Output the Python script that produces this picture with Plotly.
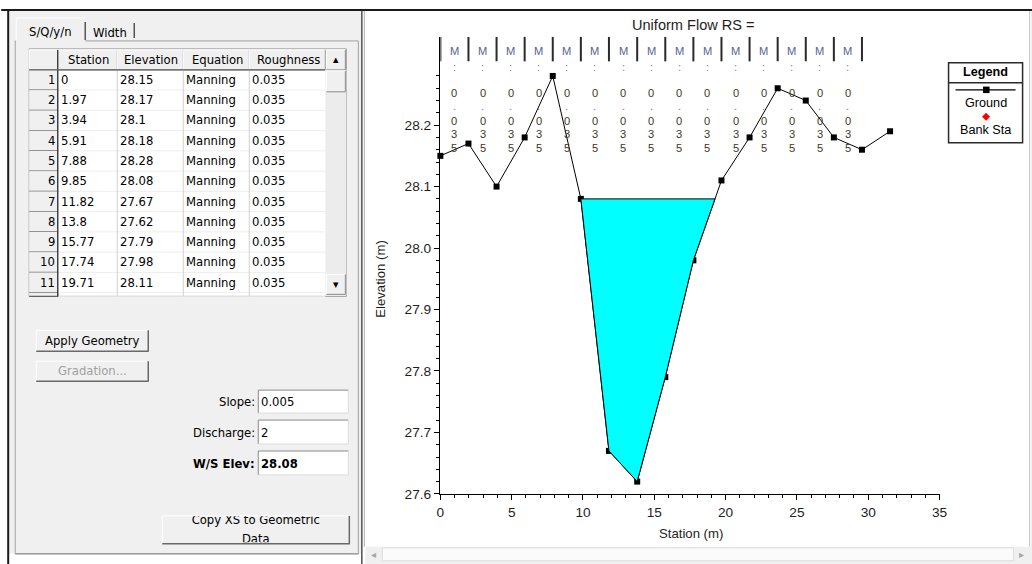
import plotly.graph_objects as go

W, H = 1032, 564

# ---------------- data ----------------
station = [0, 1.97, 3.94, 5.91, 7.88, 9.85, 11.82, 13.8, 15.77, 17.74, 19.71,
           21.68, 23.65, 25.62, 27.59, 29.56, 31.53]
elevation = [28.15, 28.17, 28.1, 28.18, 28.28, 28.08, 27.67, 27.62, 27.79, 27.98, 28.11,
             28.18, 28.26, 28.24, 28.18, 28.16, 28.19]
equation = ["Manning", "Manning", "Manning", "Manning", "Manning", "Manning",
            "Manning", "Manning", "Manning", "Manning", "Manning"]
roughness = ["0.035", "0.035", "0.035", "0.035", "0.035", "0.035", "0.035", "0.035",
             "0.035", "0.035", "0.035", "0.035", "0.035", "0.035", "0.035"]
n_label = "M:0.035"
slope = "0.005"
discharge = "2"
ws_elev = 28.08
table_columns = ["Station", "Elevation", "Equation", "Roughness"]
copy_button_lines = ["Copy XS to Geometric", "Data"]
x_ticks = [0, 5, 10, 15, 20, 25, 30, 35]
y_ticks = [27.6, 27.7, 27.8, 27.9, 28.0, 28.1, 28.2]
y_minor = [27.62, 27.64, 27.66, 27.68, 27.72, 27.74, 27.76, 27.78, 27.82, 27.84, 27.86,
           27.88, 27.92, 27.94, 27.96, 27.98, 28.02, 28.04, 28.06, 28.08, 28.12, 28.14,
           28.16, 28.18, 28.22, 28.24, 28.26, 28.28]

UI = "DejaVu Sans"
CH = "Liberation Sans, Arial"

# page-to-picture compensation (the photographed page comes out slightly scaled)
SC = 0.988
OX = 2.8


def X(p):
    return ((p - OX) / SC) / W


def Y(p):
    return 1 - (p / SC) / H


def F(s):
    return round(s / SC, 2)


shapes = []
anns = []


def rect(x0, y0, x1, y1, fill=None, line=None, lw=1):
    shapes.append(dict(type="rect", xref="paper", yref="paper", x0=X(x0), x1=X(x1),
                       y0=Y(y1), y1=Y(y0), fillcolor=fill or "rgba(0,0,0,0)",
                       line=dict(color=line or "rgba(0,0,0,0)", width=lw if line else 0),
                       layer="below"))


def seg(x0, y0, x1, y1, color, lw=1, layer="below"):
    shapes.append(dict(type="line", xref="paper", yref="paper", x0=X(x0), x1=X(x1),
                       y0=Y(y0), y1=Y(y1), line=dict(color=color, width=lw), layer=layer))


def txt(x, y, s, size=11, color="#000", anchor="left", bold=False, font=UI):
    if bold:
        s = "<b>" + s + "</b>"
    anns.append(dict(xref="paper", yref="paper", x=X(x), y=Y(y), text=s, showarrow=False,
                     xanchor=anchor, yanchor="middle",
                     font=dict(family=font, size=F(size), color=color), borderpad=0))


def button(x0, y0, x1, y1):
    rect(x0, y0, x1, y1, fill="#f0f0f0")
    seg(x0, y0, x1, y0, "#ffffff")
    seg(x0, y0, x0, y1, "#ffffff")
    seg(x0, y1, x1, y1, "#696969", 1.5)
    seg(x1, y0, x1, y1 + 0.5, "#696969", 1.5)


def raised(x0, y0, x1, y1, fill="#f0f0f0"):
    rect(x0, y0, x1, y1, fill=fill)
    seg(x0, y0, x1, y0, "#ffffff")
    seg(x0, y0, x0, y1, "#ffffff")
    seg(x0, y1, x1, y1, "#8a8a8a")
    seg(x1, y0, x1, y1, "#8a8a8a")


# ---------------- window frame ----------------
rect(8, 11, 360, 555, fill="#f0f0f0")
rect(364, 11, 1028, 548, fill="#ffffff")
rect(1029, 11, 1036, 570, fill="#f0f0f0")
seg(0, 10, 1036, 10, "#1a1a1a", 2)
seg(7, 10, 7, 570, "#1a1a1a", 2)
seg(360.5, 11, 360.5, 570, "#505050", 1.5)
seg(363, 11, 363, 548, "#b0b0b0", 1)
seg(1028, 11, 1028, 548, "#c8c8c8", 1)

# bottom scrollbar
rect(364, 548, 1036, 570, fill="#f0f0f0")
rect(381, 549, 1012, 562, fill="#fbfbfb", line="#dcdcdc")
txt(373, 555.5, "◂", 10, "#a8a8a8", "center")
txt(1020, 555.5, "▸", 10, "#a8a8a8", "center")

# ---------------- tab control ----------------
rect(14, 41, 357, 555, line="#a0a0a0")
seg(14, 555, 357, 555, "#a0a0a0", 1.5)
rect(15, 18, 84, 42, fill="#f0f0f0")
seg(15, 18, 84, 18, "#ffffff")
seg(15, 18, 15, 41, "#ffffff")
seg(84, 22, 84, 40, "#555555", 1.5)
seg(133, 23, 133, 38, "#555555", 1.5)
txt(49, 32, "S/Q/y/n", 11.5, "#000", "center")
txt(108.5, 33, "Width", 11.5, "#000", "center")

# ---------------- table ----------------
cols = [28, 57, 116, 182, 248, 324]
sb0, sb1 = 324, 345
hdr0, hdr1 = 50, 70
row_h = 20.3
n_rows = len(equation)
tbl_bot = 297

rect(28, 49, sb1, tbl_bot, fill="#ffffff", line="#9a9a9a")
for i in range(len(cols) - 1):
    raised(cols[i], hdr0, cols[i + 1], hdr1)
for j, name in enumerate(table_columns):
    txt((cols[j + 1] + cols[j + 2]) / 2 + 1, 60, name, 11.5, "#000", "center")
for r in range(n_rows + 1):
    top = hdr1 + r * row_h
    bot = min(top + row_h, tbl_bot)
    rect(28, top, 57, bot, fill="#f0f0f0")
    seg(28, bot, 57, bot, "#5a5a5a", 1.2)
    seg(57, bot, sb0, bot, "#eeeeee", 1)
for c in cols[2:5]:
    seg(c, hdr1, c, tbl_bot, "#d0d0d0", 1)
seg(56.5, hdr0, 56.5, tbl_bot, "#404040", 1.5)
seg(28, hdr1, sb0, hdr1, "#606060", 1.2)
for r in range(n_rows):
    yc = hdr1 + r * row_h + row_h / 2
    txt(55, yc, str(r + 1), 11.5, "#000", "right")
    txt(cols[1] + 2, yc, f"{station[r]:g}", 11.5, "#000", "left")
    txt(cols[2] + 2, yc, f"{elevation[r]:g}", 11.5, "#000", "left")
    txt(cols[3] + 2, yc, equation[r], 11.5, "#000", "left")
    txt(cols[4] + 2, yc, roughness[r], 11.5, "#000", "left")
rect(sb0, hdr1, sb1, tbl_bot - 1, fill="#ececec")
raised(sb0 + 1, hdr0, sb1 - 1, hdr1)
raised(sb0 + 1, hdr1 + 1, sb1 - 1, hdr1 + 22)
raised(sb0 + 1, 275, sb1 - 1, 295)
txt((sb0 + sb1) / 2, 60, "▲", 7, "#000", "center")
txt((sb0 + sb1) / 2, 285.5, "▼", 7, "#000", "center")

# ---------------- buttons and inputs ----------------
button(35, 331, 147, 352)
txt(91, 341.5, "Apply Geometry", 11.5, "#000", "center")
button(35, 362, 147, 382)
txt(91, 372, "Gradation...", 11.5, "#a0a0a0", "center")


def entry(y0, y1):
    rect(257, y0, 347, y1, fill="#ffffff")
    seg(257, y0, 347, y0, "#8a8a8a")
    seg(257, y0, 257, y1, "#8a8a8a")
    seg(257, y1, 347, y1, "#dcdcdc")
    seg(347, y0, 347, y1, "#dcdcdc")


entry(391, 414)
entry(421, 445)
entry(452, 476)
txt(255, 403, "Slope:", 11.5, "#000", "right")
txt(259, 403, slope, 11.5, "#000", "left")
txt(255, 434, "Discharge:", 11.5, "#000", "right")
txt(259, 434, discharge, 11.5, "#000", "left")
txt(255, 465, "W/S Elev:", 11.5, "#000", "right", bold=True)
txt(259, 465, f"{ws_elev:.2f}", 11.5, "#000", "left", bold=True)
button(161, 517, 348, 545)

# ---------------- chart ----------------
fig = go.Figure()

fig.add_trace(go.Scatter(x=station, y=elevation, mode="lines+markers",
                         line=dict(color="#000", width=1),
                         marker=dict(symbol="square", size=6, color="#000"),
                         cliponaxis=False, showlegend=False, hoverinfo="skip"))

# water surface polygon
wx, wy = [], []
for i in range(len(station) - 1):
    x0, y0, x1, y1 = station[i], elevation[i], station[i + 1], elevation[i + 1]
    if y0 <= ws_elev and (not wx):
        wx.append(x0); wy.append(ws_elev)
    if (y0 - ws_elev) * (y1 - ws_elev) < 0 and y0 > ws_elev and not wx:
        xi = x0 + (ws_elev - y0) / (y1 - y0) * (x1 - x0)
        wx.append(xi); wy.append(ws_elev)
    if wx and y1 < ws_elev:
        wx.append(x1); wy.append(y1)
    if wx and y0 < ws_elev <= y1:
        xi = x0 + (ws_elev - y0) / (y1 - y0) * (x1 - x0)
        wx.append(xi); wy.append(ws_elev)
        break
wx.append(wx[0]); wy.append(wy[0])
fig.add_trace(go.Scatter(x=wx, y=wy, mode="lines", fill="toself", fillcolor="#00ffff",
                         line=dict(color="#000", width=1), showlegend=False,
                         hoverinfo="skip"))

# clipped two-line caption of the "Copy XS" button (hidden helper axes)
fig.add_trace(go.Scatter(x=[0.5, 0.5], y=[0.80, 0.10], mode="text",
                         text=copy_button_lines, textposition="middle center",
                         textfont=dict(family=UI, size=F(11.5), color="#000"),
                         xaxis="x2", yaxis="y2", cliponaxis=True, showlegend=False,
                         hoverinfo="skip"))

# n-value label bars and text
n_bars = len(roughness) + 1
for i in range(n_bars):
    shapes.append(dict(type="line", xref="x", yref="paper", x0=station[i], x1=station[i],
                       y0=Y(61.5), y1=Y(37), line=dict(color="#2a2a2a", width=2),
                       layer="above"))
rows_y = [51, 67, 93, 106.5, 121.5, 134, 148]
row_col = ["#55649a", "#8c6cb0", "#3e3626", "#8c6cb0", "#3e3626", "#3e3626", "#3e3626"]
for i in range(len(roughness)):
    xm = (station[i] + station[i + 1]) / 2
    lab = n_label[:2] + roughness[i]
    for k, ch in enumerate(lab):
        anns.append(dict(xref="x", yref="paper", x=xm, y=Y(rows_y[k]), text=ch,
                         showarrow=False, xanchor="center", yanchor="middle",
                         font=dict(family=CH, size=F(11), color=row_col[k])))

# titles
txt(692.5, 25, "Uniform Flow RS =", 14.4, "#1e1e1e", "center", font=CH)
txt(690, 535, "Station (m)", 13, "#1e1e1e", "center", font=CH)
anns.append(dict(xref="paper", yref="paper", x=X(379), y=Y(279), text="Elevation (m)",
                 textangle=-90, showarrow=False, xanchor="center", yanchor="middle",
                 font=dict(family=CH, size=F(13), color="#1e1e1e")))

# legend
shapes.append(dict(type="rect", xref="paper", yref="paper", x0=X(947), x1=X(1021),
                   y0=Y(143), y1=Y(63), fillcolor="#ffffff",
                   line=dict(color="#2a2a2a", width=1.5), layer="above"))
seg(947, 83, 1021, 83, "#2a2a2a", 1.5, "above")
seg(954, 90, 1014, 90, "#000", 1.2, "above")
shapes.append(dict(type="rect", xref="paper", yref="paper", x0=X(981.5), x1=X(988),
                   y0=Y(93.3), y1=Y(86.8), fillcolor="#000", line=dict(width=0),
                   layer="above"))
shapes.append(dict(type="path", xref="paper", yref="paper",
                   path=f"M {X(984.5)} {Y(113)} L {X(988.5)} {Y(117)} L {X(984.5)} {Y(121)} "
                        f"L {X(980.5)} {Y(117)} Z",
                   fillcolor="#ff0000", line=dict(width=0), layer="above"))
txt(984, 72.5, "Legend", 12.5, "#000", "center", bold=True, font=CH)
txt(984, 103.5, "Ground", 12.5, "#000", "center", font=CH)
txt(984, 130, "Bank Sta", 12.5, "#000", "center", font=CH)

fig.update_layout(
    width=W, height=H, margin=dict(l=0, r=0, t=0, b=0),
    paper_bgcolor="#ffffff", plot_bgcolor="rgba(0,0,0,0)",
    showlegend=False,
    xaxis=dict(domain=[X(439), X(938)], range=[0, 35], tickvals=x_ticks,
               showline=True, linecolor="#000", linewidth=1.5, ticks="outside",
               ticklen=5, tickwidth=1, tickcolor="#000", showgrid=False, zeroline=False,
               tickfont=dict(family=CH, size=F(13.5), color="#1e1e1e"),
               minor=dict(dtick=1, ticklen=3, tickcolor="#000", tickwidth=1, showgrid=False),
               fixedrange=True),
    yaxis=dict(domain=[Y(495), Y(36.7)], range=[27.6, 28.344], tickvals=y_ticks,
               ticktext=[f"{v:.1f}" for v in y_ticks],
               showline=True, linecolor="#000", linewidth=1.5, ticks="outside",
               ticklen=5, tickwidth=1, tickcolor="#000", showgrid=False, zeroline=False,
               tickfont=dict(family=CH, size=F(13.5), color="#1e1e1e"),
               minor=dict(tickvals=y_minor, ticklen=3, tickcolor="#000", tickwidth=1,
                          showgrid=False),
               fixedrange=True),
    xaxis2=dict(domain=[X(163), X(346)], range=[0, 1], visible=False, fixedrange=True,
                anchor="y2"),
    yaxis2=dict(domain=[Y(543.5), Y(517.5)], range=[0, 1], visible=False, fixedrange=True,
                anchor="x2"),
    shapes=shapes, annotations=anns,
)

fig.write_html("out.html", config=dict(displayModeBar=False, staticPlot=True),
               post_script="document.body.style.margin='0';document.body.style.overflow='hidden';")
